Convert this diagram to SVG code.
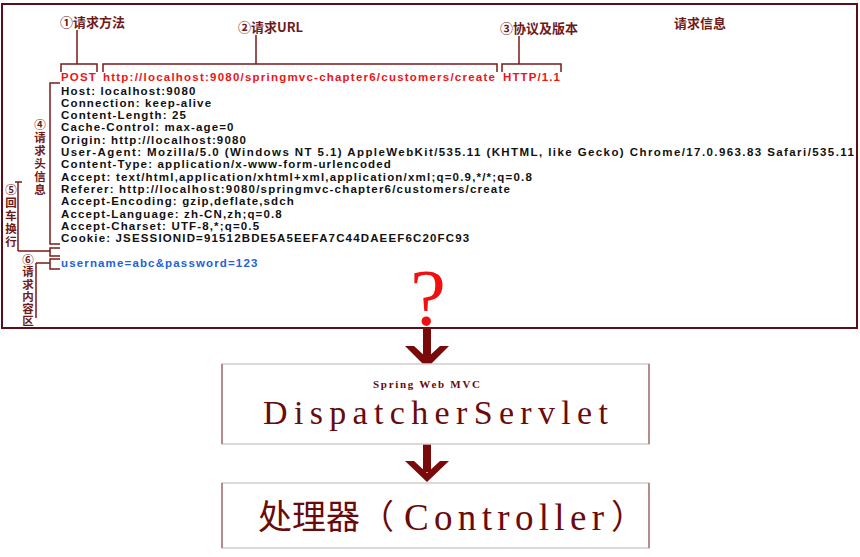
<svg xmlns="http://www.w3.org/2000/svg" width="860" height="557" viewBox="0 0 860 557">
<style>
.h{font-family:"Liberation Sans",Arial,sans-serif;font-size:11.5px;font-weight:bold;letter-spacing:1.15px;fill:#111}
.red{fill:#ee1515}
.blue{fill:#2262d8}
.lab{font-family:"Noto Sans CJK SC","Liberation Serif",sans-serif;font-size:13px;font-weight:bold;fill:#6e1a1a}
.vl{font-family:"Noto Sans CJK SC","Liberation Serif",sans-serif;font-size:11.5px;font-weight:bold;fill:#6e1a1a;writing-mode:vertical-rl}
.ln{fill:none;stroke:#7a1a1a;stroke-width:1.5}
.arrow{fill:#7a0a0a}
.ser{font-family:"Liberation Serif","Times New Roman",serif;fill:#6b0a0a}
</style>
<rect width="860" height="557" fill="#fff"/>
<g id="request">
<rect x="2" y="4" width="855" height="324" fill="#fff" stroke="#5a0f1a" stroke-width="2"/>
<text class="lab" x="674" y="28">请求信息</text>
<text class="h red" x="61" y="81" textLength="36">POST</text>
<text class="h red" x="103" y="81" textLength="393">http://localhost:9080/springmvc-chapter6/customers/create</text>
<text class="h red" x="503" y="81" textLength="58">HTTP/1.1</text>
<text class="h" x="61" y="94.5">Host: localhost:9080</text>
<text class="h" x="61" y="106.8">Connection: keep-alive</text>
<text class="h" x="61" y="119.1">Content-Length: 25</text>
<text class="h" x="61" y="131.4">Cache-Control: max-age=0</text>
<text class="h" x="61" y="143.7">Origin: http://localhost:9080</text>
<text class="h" x="61" y="156" textLength="794">User-Agent: Mozilla/5.0 (Windows NT 5.1) AppleWebKit/535.11 (KHTML, like Gecko) Chrome/17.0.963.83 Safari/535.11</text>
<text class="h" x="61" y="168.3" textLength="331">Content-Type: application/x-www-form-urlencoded</text>
<text class="h" x="61" y="180.6" textLength="472">Accept: text/html,application/xhtml+xml,application/xml;q=0.9,*/*;q=0.8</text>
<text class="h" x="61" y="192.9" textLength="450">Referer: http://localhost:9080/springmvc-chapter6/customers/create</text>
<text class="h" x="61" y="205.2">Accept-Encoding: gzip,deflate,sdch</text>
<text class="h" x="61" y="217.5">Accept-Language: zh-CN,zh;q=0.8</text>
<text class="h" x="61" y="229.8">Accept-Charset: UTF-8,*;q=0.5</text>
<text class="h" x="61" y="242.1">Cookie: JSESSIONID=91512BDE5A5EEFA7C44DAEEF6C20FC93</text>
<text class="h blue" x="61" y="267">username=abc&amp;password=123</text>
</g>
<g id="labels">
<text class="lab" x="60" y="27">①请求方法</text>
<text class="lab" x="238" y="32">②请求URL</text>
<text class="lab" x="500" y="33">③协议及版本</text>
<text class="vl" x="40" y="119" letter-spacing="1.5">④请求头信息</text>
<text class="vl" x="11" y="184" letter-spacing="1.5">⑤回车换行</text>
<text class="vl" x="28" y="254" letter-spacing="0.7">⑥请求内容区</text>
</g>
<g id="connectors">
<path class="ln" d="M61,72 V64 H97 V72 M77,30 V64"/>
<path class="ln" d="M103,72 V64 H497 V72 M256,35 V64"/>
<path class="ln" d="M502,72 V64 H561 V72 M519,36 V64"/>
<path class="ln" d="M60,83 H50 V244 H60"/>
<path class="ln" d="M60,248 H50 V256 H60 M18,251 H50 M18,182 V251 M15,182 H22"/>
<path class="ln" d="M60,259 H50 V269 H60 M36,263 H50 M36,263 V318"/>
<text x="428" y="325" text-anchor="middle" font-family="Liberation Serif,serif" font-size="80" fill="#f01010">?</text>
<rect class="arrow" x="423" y="327" width="8" height="34"/>
<polygon class="arrow" points="405,346 414,346 427,358 440,346 449,346 427,368"/>
<rect class="arrow" x="423" y="444" width="8" height="28"/>
<polygon class="arrow" points="405,461 414,461 427,473 440,461 449,461 427,482"/>
</g>
<g id="dispatcher">
<rect x="222" y="364" width="427" height="80" fill="#fff" stroke="#d4cccc" stroke-width="1.5"/>
<path d="M222,364 V444 M649,364 V444" stroke="#8a4040" stroke-width="1"/>
<text class="ser" x="373" y="388" font-size="11" font-weight="bold" textLength="107">Spring Web MVC</text>
<text class="ser" x="263" y="424" font-size="34" textLength="345">DispatcherServlet</text>
</g>
<g id="controller">
<rect x="222" y="483" width="427" height="65" fill="#fff" stroke="#d4cccc" stroke-width="1.5"/>
<path d="M222,483 V548 M649,483 V548" stroke="#8a4040" stroke-width="1"/>
<text font-family="Noto Sans CJK SC,sans-serif" font-size="34" fill="#6b0a0a" x="258" y="529">处理器（</text>
<text class="ser" x="404" y="530" font-size="37" textLength="200">Controller</text>
<text font-family="Noto Sans CJK SC,sans-serif" font-size="34" fill="#6b0a0a" x="611" y="529">）</text>
</g>
</svg>
